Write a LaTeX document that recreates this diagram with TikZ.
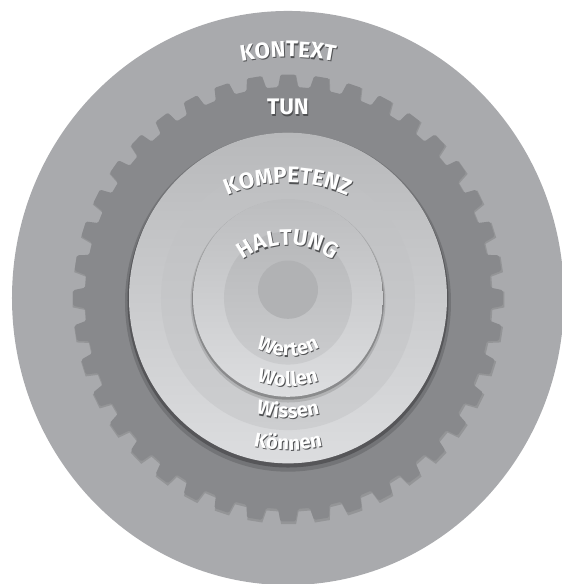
\documentclass[tikz,border=0pt]{standalone}
\usepackage{fontspec}
\setmainfont{Fira Sans}
\usetikzlibrary{decorations.text}
\definecolor{kontextgray}{HTML}{A9AAAD}
\definecolor{tungray}{HTML}{88898C}
\definecolor{kompdark}{HTML}{B8B9BB}
\definecolor{komplight}{HTML}{DCDDDF}
\definecolor{wissdark}{HTML}{BEBFC1}
\definecolor{wisslight}{HTML}{CDCED0}
\definecolor{haltdark}{HTML}{BCBDBF}
\definecolor{haltlight}{HTML}{DDDEE0}
\definecolor{wertdark}{HTML}{B7B8BA}
\definecolor{wertlight}{HTML}{CBCCCE}
\definecolor{coregray}{HTML}{B1B2B4}
\definecolor{labelshadow}{HTML}{505153}

\newcommand\capsfont{\bfseries\fontsize{22.5}{22.5}\selectfont}
\newcommand\lowfont{\bfseries\fontsize{20}{20}\selectfont}
% #1 centre, #2 radius, #3/#4 start/end angle, #5 font, #6 text
\newcommand\arclabel[6]{%
  \foreach \tcol/\dx/\dy in {labelshadow/0.9/-1.2, white/0/0}
    \path[decorate, decoration={text along path, text align=center,
        text color=\tcol, text={|#5|#6}}]
      ([shift={(\dx,\dy)}]#1) ++(#3:#2) arc[start angle=#3, end angle=#4, radius=#2];
}

\begin{document}
\begin{tikzpicture}[x=1pt, y=1pt]
  \useasboundingbox (-288,-286) rectangle (274,298);
  \begin{scope}[yscale=1.04]
    \fill[kontextgray] (0,0) circle[radius=276];
    \fill[black, opacity=0.12, shift={(0.6,-1.5)}] (87.2:204) \foreach \a in {90,99,...,441}{
        -- ({\a-2}:216) -- ({\a+2}:216) -- ({\a+2.8}:204) -- ({\a+6.2}:204)} -- cycle;
    \fill[tungray, rounded corners=1.5] (87.2:203) \foreach \a in {90,99,...,441}{
        -- ({\a-2}:215) -- ({\a+2}:215) -- ({\a+2.8}:203) -- ({\a+6.2}:203)} -- cycle;
    \fill[black, opacity=0.15] (0,-4) circle[radius=163];
    \fill[black, opacity=0.25] (0,-2.5) circle[radius=160.5];
    \shade[top color=kompdark, bottom color=komplight] (0,0) circle[radius=159];
    \shade[top color=wissdark, bottom color=wisslight] (0,0) circle[radius=127];
    \fill[black, opacity=0.12] (0,-3) circle[radius=97.5];
    \fill[black, opacity=0.22] (0,-1.8) circle[radius=96];
    \shade[top color=haltdark, bottom color=haltlight] (0,0) circle[radius=95];
    \shade[top color=wertdark, bottom color=wertlight] (0,0) circle[radius=64];
    \fill[coregray] (0,8) ellipse[x radius=30, y radius=28];
  \end{scope}

  \arclabel{0,0}{241}{130}{50}{\capsfont}{KONTEXT}
  \node[font=\capsfont, text=labelshadow, anchor=base] (tunshadow) at (0.9,181.8) {TUN};
  \node[font=\capsfont, text=white, anchor=base] (tun) at (0,183) {TUN};
  \arclabel{0,-32}{147}{140}{40}{\capsfont}{KOMPETENZ}
  \arclabel{0,-22}{75}{170}{10}{\capsfont}{HALTUNG}
  \arclabel{0,6}{64}{200}{340}{\lowfont}{Werten}
  \arclabel{0,4}{92}{220}{320}{\lowfont}{Wollen}
  \arclabel{0,0}{120}{230}{310}{\lowfont}{Wissen}
  \arclabel{0,0}{152}{240}{300}{\lowfont}{Können}
\end{tikzpicture}
\end{document}
